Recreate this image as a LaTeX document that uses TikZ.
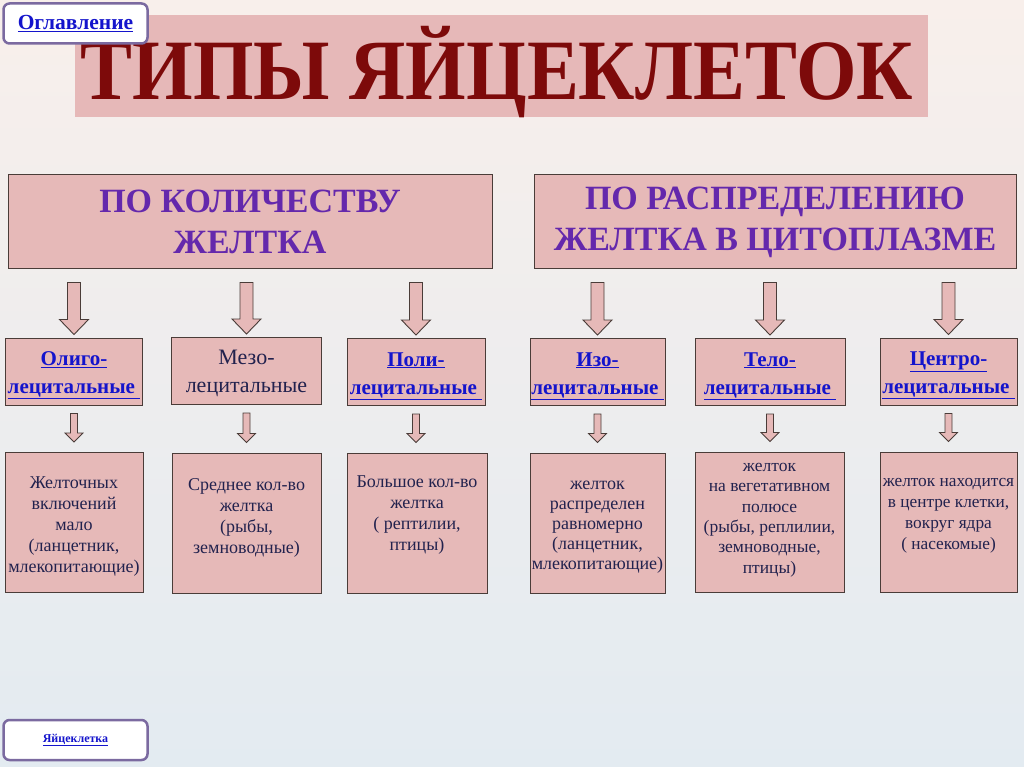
\documentclass[tikz,border=0pt]{standalone}
\usepackage{fontspec}
\setmainfont{Liberation Serif}
\usetikzlibrary{calc}
\definecolor{bgtop}{HTML}{F8EFEB}
\definecolor{bgmid}{HTML}{FBF8F0}
\definecolor{bgbot}{HTML}{E3EBF1}
\definecolor{titlebg}{HTML}{E6B8B8}
\definecolor{titlered}{HTML}{7D0A0A}
\definecolor{boxfill}{HTML}{E6B9B8}
\definecolor{boxline}{HTML}{4A3C38}
\definecolor{hdrpurple}{HTML}{6428AC}
\definecolor{linkblue}{HTML}{1414CC}
\definecolor{navy}{HTML}{22224E}
\definecolor{btnline}{HTML}{7B6AA0}
\newcommand\lnk[1]{\textcolor{linkblue}{\underline{#1}}}
\tikzset{
  boxbase/.style={draw=boxline, fill=boxfill, line width=1pt, inner sep=0pt},
  hdrtext/.style={align=center, text=hdrpurple, font=\fontsize{34}{41}\selectfont\bfseries, inner sep=0pt},
  midtext/.style={align=center, text=navy, font=\fontsize{21}{28}\selectfont, inner sep=0pt},
  bottext/.style={align=center, text=navy, font=\fontsize{18}{21}\selectfont, inner sep=0pt},
  btn/.style={draw=btnline, fill=white, line width=2.5pt, rounded corners=6pt, minimum width=144pt},
  bigarr/.style={draw=boxline, fill=boxfill, line width=0.9pt,
    to path={let \p1=(\tikztostart), \p2=(\tikztotarget) in
      (\x1-6.5pt,\y1) -- (\x1+6.5pt,\y1) -- (\x1+6.5pt,\y2+15pt) -- (\x1+14.5pt,\y2+15pt)
      -- (\x1,\y2) -- (\x1-14.5pt,\y2+15pt) -- (\x1-6.5pt,\y2+15pt) -- cycle}},
  smallarr/.style={draw=boxline, fill=boxfill, line width=0.8pt,
    to path={let \p1=(\tikztostart), \p2=(\tikztotarget) in
      (\x1-3.5pt,\y1) -- (\x1+3.5pt,\y1) -- (\x1+3.5pt,\y2+9pt) -- (\x1+9pt,\y2+9pt)
      -- (\x1,\y2) -- (\x1-9pt,\y2+9pt) -- (\x1-3.5pt,\y2+9pt) -- cycle}}
}
\begin{document}
\begin{tikzpicture}[x=1pt,y=-1pt]
\useasboundingbox (0,0) rectangle (1024,767);
\shade[top color=bgtop, middle color=bgmid, bottom color=bgbot] (0,0) rectangle (1024,767);
% title
\fill[titlebg] (75,15) rectangle (928,117);
\node[anchor=base, inner sep=0pt, text=titlered] (title) at (497,100)
  {\scalebox{0.905}[1]{\fontsize{86}{86}\selectfont\bfseries ТИПЫ ЯЙЦЕКЛЕТОК}};
% buttons
\node[btn, minimum height=40pt] (toc) at (75.5,23.5)
  {\fontsize{21.5}{22}\selectfont\bfseries\lnk{Оглавление}};
\node[btn, minimum height=40pt] (egg) at (75.5,740)
  {\fontsize{12}{12}\selectfont\bfseries\lnk{Яйцеклетка}};
% headers
\node[boxbase, minimum width=484pt, minimum height=93pt] (h1) at (250,221.5) {};
\node[boxbase, minimum width=482pt, minimum height=93pt] (h2) at (775,221.5) {};
\node[hdrtext] (h1t) at ($(h1.center)+(0,0.5)$) {ПО КОЛИЧЕСТВУ\\ЖЕЛТКА};
\node[hdrtext] (h2t) at ($(h2.center)+(0,0.5)$) {ПО РАСПРЕДЕЛЕНИЮ\\ЖЕЛТКА В ЦИТОПЛАЗМЕ};
% middle row
\node[boxbase, minimum width=137pt, minimum height=67pt] (m1) at (74,371.5) {};
\node[boxbase, minimum width=150pt, minimum height=67pt] (m2) at (246.5,371) {};
\node[boxbase, minimum width=138pt, minimum height=67pt] (m3) at (416,372) {};
\node[boxbase, minimum width=135pt, minimum height=67pt] (m4) at (597.5,372) {};
\node[boxbase, minimum width=150pt, minimum height=67pt] (m5) at (770,372) {};
\node[boxbase, minimum width=137pt, minimum height=67pt] (m6) at (948.5,371.5) {};
\node[midtext] (m1t) at ($(m1.center)+(0,4)$) {\bfseries\lnk{Олиго-}\\\bfseries\lnk{лецитальные\ }};
\node[midtext, font=\fontsize{22}{28}\selectfont] (m2t) at ($(m2.center)+(0,2)$) {Мезо-\\лецитальные};
\node[midtext] (m3t) at ($(m3.center)+(0,4)$) {\bfseries\lnk{Поли-}\\\bfseries\lnk{лецитальные\ }};
\node[midtext] (m4t) at ($(m4.center)+(0,4)$) {\bfseries\lnk{Изо-}\\\bfseries\lnk{лецитальные\ }};
\node[midtext] (m5t) at ($(m5.center)+(0,4)$) {\bfseries\lnk{Тело-}\\\bfseries\lnk{лецитальные\ }};
\node[midtext] (m6t) at ($(m6.center)+(0,4)$) {\bfseries\lnk{Центро-}\\\bfseries\lnk{лецитальные\ }};
% bottom row
\node[boxbase, minimum width=138pt, minimum height=140pt] (b1) at (74,522.5) {};
\node[boxbase, minimum width=149pt, minimum height=140pt] (b2) at (246.5,523) {};
\node[boxbase, minimum width=140pt, minimum height=140pt] (b3) at (417,523) {};
\node[boxbase, minimum width=135pt, minimum height=140pt] (b4) at (597.5,523) {};
\node[boxbase, minimum width=149pt, minimum height=140pt] (b5) at (769.5,522) {};
\node[boxbase, minimum width=137pt, minimum height=140pt] (b6) at (948.5,522) {};
\node[bottext] (t1) at (74,527) {Желточных\\включений\\мало\\(ланцетник,\\млекопитающие)};
\node[bottext] (t2) at (246.5,518) {Среднее кол-во\\желтка\\(рыбы,\\земноводные)};
\node[bottext] (t3) at (417,515) {Большое кол-во\\желтка\\( рептилии,\\птицы)};
\node[bottext, font=\fontsize{18}{20}\selectfont] (t4) at (597.5,527.5) {желток\\распределен\\равномерно\\ (ланцетник,\\млекопитающие)};
\node[bottext, font=\fontsize{17.5}{20.4}\selectfont] (t5) at (769.5,520) {желток\\на вегетативном\\полюсе\\ (рыбы, реплилии,\\земноводные,\\птицы)};
\node[bottext, font=\fontsize{17.3}{21}\selectfont] (t6) at (948.5,516) {желток находится\\в центре клетки,\\вокруг ядра\\ ( насекомые)};
% arrows header -> middle
\foreach \m/\h in {m1/h1,m2/h1,m3/h1,m4/h2,m5/h2,m6/h2}
  \draw[bigarr] ($(\m.north |- \h.south)+(0,14)$) to ($(\m.north)+(0,-3)$);
% arrows middle -> bottom
\foreach \m/\b in {m1/b1,m2/b2,m3/b3,m4/b4,m5/b5,m6/b6}
  \draw[smallarr] ($(\m.south)+(0,8)$) to ($(\b.north)+(0,-10)$);
\end{tikzpicture}
\end{document}
